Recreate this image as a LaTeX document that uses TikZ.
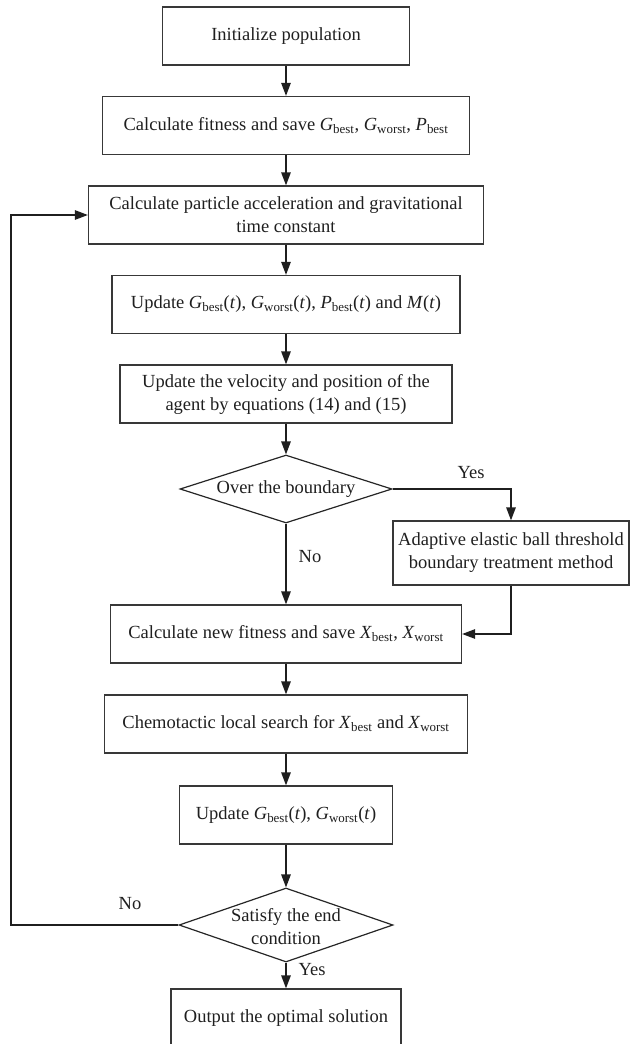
\documentclass[tikz,border=0pt]{standalone}
\usepackage{fontspec}
\setmainfont{Liberation Serif}
\usetikzlibrary{arrows.meta,shapes.geometric}
\newcommand{\vsub}[2]{\textit{#1}\textsubscript{#2}}
\begin{document}
\begin{tikzpicture}[x=1pt,y=-1pt,
  txt/.style={font=\fontsize{18.5}{23}\selectfont, text=black!88},
  box/.style={txt, draw=black!78, line width=1.3pt, minimum height=58pt, inner sep=0pt, align=center},
  dia/.style={draw=black!85, line width=1.2pt, diamond, inner sep=0pt},
  arr/.style={-{Triangle[length=13pt,width=9.5pt]}, line width=1.3pt, draw=black!88}]
\useasboundingbox (0,0) rectangle (630,1044);
\node[box, minimum width=247pt] (b1) at (286,36) {Initialize population};
\node[box, minimum width=367pt] (b2) at (286,125.5) {Calculate fitness and save \vsub{G}{best}, \vsub{G}{worst}, \vsub{P}{best}};
\node[box, minimum width=395pt] (b3) at (286,215) {Calculate particle acceleration and gravitational\\time constant};
\node[box, minimum width=348pt] (b4) at (286,304.5) {Update \vsub{G}{best}(\textit{t}), \vsub{G}{worst}(\textit{t}), \vsub{P}{best}(\textit{t}) and \textit{M}(\textit{t})};
\node[box, minimum width=332pt] (b5) at (286,394) {Update the velocity and position of the\\agent by equations (14) and (15)};
\node[dia, minimum width=212pt, minimum height=68pt] (d1) at (286,489) {};
\node[txt] (d1t) at (286,489) {Over the boundary};
\node[box, minimum width=236pt, minimum height=64pt] (ad) at (511,553) {Adaptive elastic ball threshold\\boundary treatment method};
\node[box, minimum width=351pt] (b6) at (286,634) {Calculate new fitness and save \vsub{X}{best}, \vsub{X}{worst}};
\node[box, minimum width=363pt] (b7) at (286,724) {Chemotactic local search for \vsub{X}{best} and \vsub{X}{worst}};
\node[box, minimum width=213pt] (b8) at (286,815) {Update \vsub{G}{best}(\textit{t}), \vsub{G}{worst}(\textit{t})};
\node[dia, minimum width=214pt, minimum height=74pt] (d2) at (286,925) {};
\node[txt, align=center] (d2t) at (286,927) {Satisfy the end\\condition};
\node[box, minimum width=230pt] (b9) at (286,1018) {Output the optimal solution};
\node[txt] (yes1) at (471,473) {Yes};
\node[txt] (no1) at (310,557) {No};
\node[txt] (no2) at (130,904) {No};
\node[txt] (yes2) at (312,970) {Yes};
\coordinate (lp) at (11,925);
\draw[arr] (b1) -- (b2);
\draw[arr] (b2) -- (b3);
\draw[arr] (b3) -- (b4);
\draw[arr] (b4) -- (b5);
\draw[arr] (b5) -- (d1);
\draw[arr] (d1) -- (b6);
\draw[arr] (d1.east) -| (ad.north);
\draw[arr] (ad.south) |- (b6.east);
\draw[arr] (b6) -- (b7);
\draw[arr] (b7) -- (b8);
\draw[arr] (b8) -- (d2);
\draw[arr] (d2) -- (b9);
\draw[arr] (d2.west) -- (lp) |- (b3.west);
\end{tikzpicture}
\end{document}
